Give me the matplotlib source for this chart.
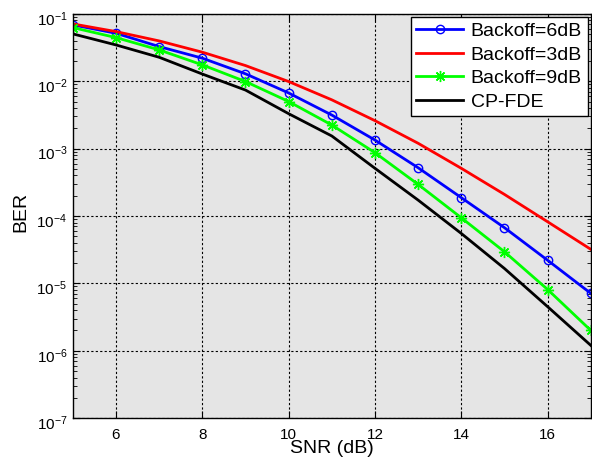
import matplotlib
matplotlib.use("Agg")
import matplotlib.pyplot as plt
import matplotlib.transforms as mtransforms
import numpy as np

plt.rcParams['font.family'] = ['Liberation Sans', 'DejaVu Sans']
plt.rcParams['mathtext.fontset'] = 'custom'
plt.rcParams['mathtext.rm'] = 'Liberation Sans'
plt.rcParams['mathtext.it'] = 'Liberation Sans'

# SNR (dB) と BER の読み取り値
snr = [5, 6, 7, 8, 9, 10, 11, 12, 13, 14, 15, 16, 17]
ber_6db = [0.0687, 0.0516, 0.0327, 0.0220, 0.0129, 0.0067, 3.15e-3, 1.34e-3,
           5.2e-4, 1.87e-4, 6.7e-5, 2.2e-5, 7.1e-6]
ber_3db = [0.071, 0.0546, 0.0397, 0.027, 0.0171, 0.0099, 5.3e-3, 2.6e-3,
           1.2e-3, 5.1e-4, 2.09e-4, 8.2e-5, 3.2e-5]
ber_9db = [0.0626, 0.0445, 0.0292, 0.0175, 0.0099, 0.0050, 2.24e-3, 8.7e-4,
           2.94e-4, 9.4e-5, 2.94e-5, 8.1e-6, 2.0e-6]
ber_cp = [0.0505, 0.0346, 0.0227, 0.0128, 0.0074, 3.3e-3, 1.54e-3, 5.1e-4,
          1.72e-4, 5.5e-5, 1.66e-5, 4.5e-6, 1.2e-6]
labels = ['Backoff=6dB', 'Backoff=3dB', 'Backoff=9dB', 'CP-FDE']
yexp = [-7, -6, -5, -4, -3, -2, -1]

fig = plt.figure(figsize=(5.92, 4.63), dpi=100)
ax = fig.add_axes([0.123, 0.097, 0.875, 0.873])
ax.set_facecolor('#e5e5e5')

ax.semilogy(snr, ber_6db, color='#0000ff', lw=2, marker='o', ms=6,
            mfc='none', mec='#0000ff', mew=1, label=labels[0])
ax.semilogy(snr, ber_3db, color='#ff0000', lw=2, label=labels[1])
ax.semilogy(snr, ber_9db, color='#00ff00', lw=2, marker=(8, 2, 0), ms=8,
            mew=1, label=labels[2])
ax.semilogy(snr, ber_cp, color='black', lw=2, label=labels[3])

ax.set_xlim(5, 17)
ax.set_ylim(1e-7, 1e-1)
ax.set_xticks([6, 8, 10, 12, 14, 16])
ax.set_yticks([10.0**k for k in yexp])
ax.set_yticklabels([r'$10^{%d}$' % k for k in yexp])
ax.tick_params(which='both', direction='in', top=True, right=True, labelsize=11)
ax.tick_params(which='major', length=5)
ax.tick_params(which='minor', length=3)
ax.tick_params(axis='x', which='minor', bottom=False, top=False)
ax.tick_params(axis='x', pad=7)
ax.tick_params(axis='y', pad=4)
off = mtransforms.ScaledTranslation(0, -4 / 100, fig.dpi_scale_trans)
for t in ax.get_yticklabels():
    t.set_transform(t.get_transform() + off)
ax.grid(True, which='major', linestyle=(0, (2, 2)), color='black', lw=0.8)
for s in ax.spines.values():
    s.set_linewidth(1)

ax.set_xlabel('SNR (dB)', fontsize=14, labelpad=-1)
ax.set_ylabel('BER', fontsize=14)
ax.yaxis.set_label_coords(-0.083, 0.51)

leg = ax.legend(loc='upper right', fontsize=14, fancybox=False, framealpha=1,
                edgecolor='black', borderaxespad=0.15, handlelength=2.4,
                handletextpad=0.4, labelspacing=0.3, borderpad=0.3)
leg.get_frame().set_linewidth(1)

fig.savefig('out.png', dpi=100)
